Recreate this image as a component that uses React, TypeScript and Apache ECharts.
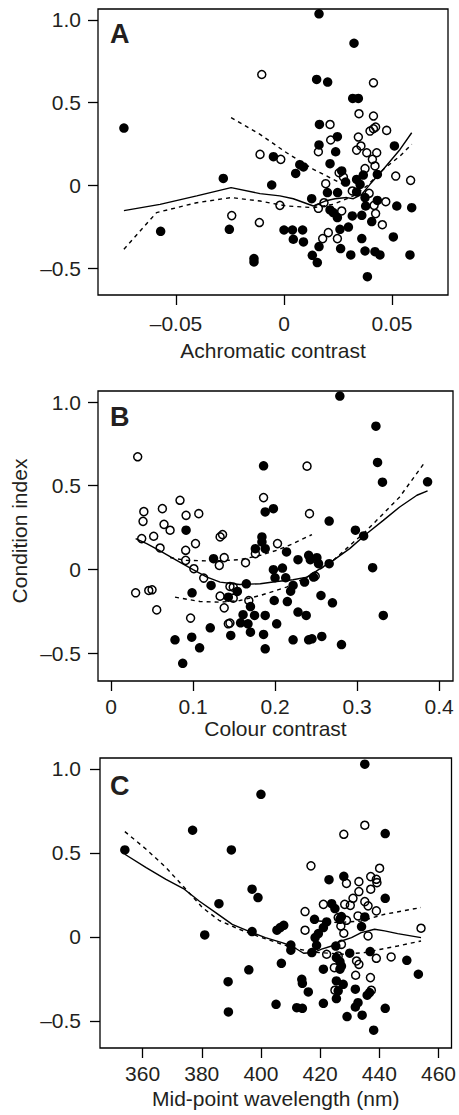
import React, { useEffect, useRef } from 'react';
import * as echarts from 'echarts';

type P = [number, number];

// ---------- Panel A: Achromatic contrast ----------
const filledA: P[] = [
  [-0.0741, 0.346], [0.0162, 1.037], [0.0324, 0.859], [0.0151, 0.64], [0.0202, 0.624], [0.0318, 0.525],
  [0.0344, 0.525], [0.0164, 0.368], [0.0162, 0.244], [0.0247, 0.294], [0.0239, 0.203], [0.0511, 0.238],
  [0.0213, 0.131], [-0.0049, 0.173], [0.0073, 0.125], [0.009, 0.111], [0.0054, 0.072], [0.0267, 0.087],
  [0.0285, 0.02], [0.0336, 0.036], [0.0352, 0.006], [0.0367, 0.062], [0.0432, 0.066], [-0.0281, 0.042],
  [-0.0057, 0.002], [0.0201, -0.044], [0.0248, -0.044], [0.0128, -0.081], [0.0336, -0.04], [0.0375, -0.074],
  [0.0432, -0.091], [0.0378, -0.125], [0.0522, -0.125], [0.0591, -0.135], [0.0213, -0.149], [0.0228, -0.165],
  [0.0247, -0.195], [0.0316, -0.185], [0.036, -0.181], [-0.0571, -0.278], [-0.0253, -0.266], [0.0, -0.27],
  [0.0039, -0.27], [0.0086, -0.27], [0.0043, -0.326], [0.009, -0.342], [0.0259, -0.266], [0.0298, -0.252],
  [0.0406, -0.219], [0.036, -0.322], [0.0506, -0.312], [0.0162, -0.37], [0.0262, -0.382], [0.0131, -0.423],
  [0.0154, -0.467], [0.0309, -0.421], [0.0375, -0.397], [0.0421, -0.401], [0.0444, -0.421], [0.0583, -0.421],
  [-0.0139, -0.443], [-0.0139, -0.463], [0.0386, -0.552],
];
const openA: P[] = [
  [-0.0103, 0.67], [0.0414, 0.62], [0.0347, 0.433], [0.0414, 0.419], [0.0213, 0.368], [0.0398, 0.328],
  [0.0414, 0.342], [0.0424, 0.352], [0.0475, 0.332], [0.0344, 0.292], [0.0216, 0.274], [0.0356, 0.238],
  [0.0336, 0.213], [0.0383, 0.197], [0.0159, 0.203], [0.0429, 0.197], [-0.0111, 0.187], [-0.0015, 0.157],
  [0.0409, 0.157], [0.0421, 0.117], [0.0375, 0.101], [0.0255, 0.076], [0.0275, 0.05], [0.0517, 0.056],
  [0.0586, 0.03], [0.0193, 0.01], [0.0316, -0.034], [0.0394, -0.048], [0.0471, -0.099], [0.0185, -0.105],
  [-0.0019, -0.121], [0.0159, -0.139], [0.0417, -0.121], [0.0267, -0.155], [0.0424, -0.171], [-0.0242, -0.183],
  [0.0455, -0.238], [-0.0114, -0.225], [0.0205, -0.286], [0.0179, -0.322], [0.0247, -0.322],
];
const fitA: P[] = [
  [-0.0741, -0.153], [-0.0574, -0.115], [-0.0404, -0.064], [-0.0245, -0.014], [-0.0111, -0.05], [-0.0019, -0.064],
  [0.0043, -0.081], [0.0136, -0.125], [0.019, -0.095], [0.0236, -0.081], [0.029, -0.074], [0.0321, -0.081],
  [0.036, -0.054], [0.0398, 0.006], [0.046, 0.097], [0.0537, 0.217], [0.0591, 0.318],
];
const lowerA: P[] = [
  [-0.0741, -0.386], [-0.059, -0.165], [-0.0404, -0.105], [-0.0245, -0.074], [-0.0111, -0.095], [0.0012, -0.125],
  [0.0136, -0.135], [0.0228, -0.115], [0.0321, -0.064], [0.0383, -0.004], [0.046, 0.097], [0.0537, 0.177],
  [0.0591, 0.248],
];
const upperA: P[] = [
  [-0.0245, 0.409], [-0.0111, 0.308], [0.0012, 0.197], [0.0136, 0.097], [0.0228, 0.036], [0.029, -0.004],
];

// ---------- Panel B: Colour contrast ----------
const filledB: P[] = [
  [0.279, 1.036], [0.323, 0.856], [0.325, 0.639], [0.331, 0.521], [0.386, 0.523], [0.186, 0.619],
  [0.188, 0.343], [0.198, 0.363], [0.266, 0.289], [0.0915, 0.234], [0.184, 0.194], [0.184, 0.164],
  [0.188, 0.124], [0.176, 0.124], [0.214, 0.104], [0.298, 0.234], [0.308, 0.2], [0.228, 0.058],
  [0.241, 0.084], [0.243, 0.058], [0.251, 0.07], [0.253, 0.034], [0.266, 0.034], [0.319, 0.01],
  [0.125, 0.064], [0.198, -0.002], [0.209, 0.008], [0.2, -0.05], [0.213, -0.05], [0.222, -0.096],
  [0.219, -0.13], [0.236, -0.076], [0.247, -0.046], [0.122, -0.096], [0.165, -0.086], [0.154, -0.132],
  [0.0988, -0.14], [0.143, -0.166], [0.199, -0.186], [0.215, -0.192], [0.256, -0.156], [0.27, -0.2],
  [0.17, -0.222], [0.228, -0.255], [0.238, -0.275], [0.161, -0.271], [0.175, -0.275], [0.188, -0.275],
  [0.332, -0.275], [0.158, -0.319], [0.167, -0.325], [0.202, -0.325], [0.121, -0.349], [0.17, -0.375],
  [0.146, -0.395], [0.186, -0.389], [0.0984, -0.405], [0.078, -0.421], [0.222, -0.421], [0.241, -0.421],
  [0.245, -0.415], [0.257, -0.401], [0.108, -0.469], [0.0874, -0.561], [0.188, -0.475], [0.281, -0.449],
];
const openB: P[] = [
  [0.0325, 0.673], [0.239, 0.617], [0.0841, 0.413], [0.186, 0.429], [0.242, 0.333], [0.04, 0.345],
  [0.039, 0.287], [0.0626, 0.363], [0.0915, 0.323], [0.107, 0.333], [0.0646, 0.269], [0.072, 0.234],
  [0.052, 0.198], [0.0374, 0.184], [0.0598, 0.128], [0.091, 0.114], [0.103, 0.154], [0.133, 0.194],
  [0.136, 0.208], [0.203, 0.154], [0.176, 0.094], [0.091, 0.054], [0.138, 0.07], [0.132, 0.024],
  [0.164, 0.04], [0.101, 0.004], [0.113, -0.052], [0.249, -0.04], [0.145, -0.102], [0.149, -0.106],
  [0.03, -0.14], [0.046, -0.126], [0.05, -0.122], [0.133, -0.16], [0.149, -0.172], [0.168, -0.186],
  [0.0557, -0.242], [0.138, -0.23], [0.097, -0.291], [0.143, -0.325], [0.145, -0.321],
];
const fitB: P[] = [
  [0.03, 0.184], [0.0435, 0.154], [0.0598, 0.11], [0.08, 0.054], [0.1, -0.002], [0.117, -0.046],
  [0.133, -0.076], [0.157, -0.09], [0.182, -0.086], [0.202, -0.072], [0.222, -0.062], [0.239, -0.046],
  [0.255, 0.004], [0.271, 0.054], [0.291, 0.124], [0.312, 0.214], [0.332, 0.293], [0.352, 0.373],
  [0.373, 0.443], [0.386, 0.469],
];
const upperB: P[] = [
  [0.072, 0.07], [0.092, 0.054], [0.125, 0.05], [0.157, 0.058], [0.182, 0.084], [0.202, 0.114],
  [0.222, 0.154], [0.245, 0.208],
];
const lowerB: P[] = [
  [0.078, -0.166], [0.1085, -0.192], [0.133, -0.196], [0.157, -0.186], [0.182, -0.156], [0.214, -0.106],
  [0.247, -0.026], [0.271, 0.054], [0.287, 0.124], [0.312, 0.234], [0.332, 0.333], [0.352, 0.433],
  [0.383, 0.643],
];

// ---------- Panel C: Mid-point wavelength ----------
const filledC: P[] = [
  [435.1, 1.028], [400.0, 0.849], [376.9, 0.635], [390.0, 0.518], [354.0, 0.518], [442.0, 0.615],
  [423.0, 0.341], [428.0, 0.361], [397.0, 0.284], [399.0, 0.234], [385.8, 0.198], [442.0, 0.23],
  [423.9, 0.198], [425.0, 0.169], [427.2, 0.121], [426.7, 0.105], [435.1, 0.119], [434.0, 0.062],
  [418.1, 0.105], [422.2, 0.089], [406.5, 0.056], [407.7, 0.069], [405.4, 0.04], [397.0, 0.032],
  [381.0, 0.012], [421.1, 0.056], [419.4, 0.02], [418.3, -0.004], [418.8, -0.05], [410.1, -0.048],
  [410.1, -0.079], [417.2, -0.093], [425.3, -0.054], [430.0, -0.097], [436.9, -0.087], [449.3, -0.139],
  [453.2, -0.222], [425.5, -0.123], [426.7, -0.147], [427.2, -0.173], [426.7, -0.192], [406.9, -0.157],
  [395.9, -0.196], [421.1, -0.192], [413.8, -0.252], [414.0, -0.276], [416.0, -0.327], [388.9, -0.266],
  [389.0, -0.446], [425.5, -0.262], [427.8, -0.282], [426.1, -0.321], [425.5, -0.367], [431.9, -0.311],
  [435.9, -0.347], [436.7, -0.331], [432.8, -0.391], [431.9, -0.417], [405.1, -0.401], [412.1, -0.421],
  [414.0, -0.425], [421.1, -0.395], [429.1, -0.474], [434.2, -0.466], [442.0, -0.425], [438.1, -0.555],
];
const openC: P[] = [
  [435.1, 0.665], [428.0, 0.611], [416.9, 0.423], [440.1, 0.409], [437.1, 0.359], [433.1, 0.329],
  [428.9, 0.319], [439.0, 0.343], [439.2, 0.323], [437.1, 0.284], [433.1, 0.27], [431.1, 0.23],
  [435.1, 0.21], [436.2, 0.185], [421.1, 0.194], [428.3, 0.194], [430.2, 0.188], [439.0, 0.155],
  [414.9, 0.151], [432.8, 0.125], [428.9, 0.099], [426.1, 0.115], [427.0, 0.065], [414.9, 0.04],
  [428.0, 0.022], [436.2, 0.006], [454.1, 0.052], [427.2, -0.044], [422.2, -0.103], [439.0, -0.127],
  [444.0, -0.119], [432.3, -0.143], [433.1, -0.163], [424.8, -0.183], [432.0, -0.228], [437.0, -0.242],
  [425.0, -0.317], [437.3, -0.317], [426.1, -0.113],
];
const fitC: P[] = [
  [354.0, 0.492], [361.2, 0.413], [367.9, 0.343], [374.1, 0.284], [379.1, 0.214], [384.7, 0.145],
  [390.3, 0.075], [397.0, 0.026], [401.5, -0.004], [407.1, -0.034], [410.4, -0.054], [414.4, -0.097],
  [417.7, -0.093], [420.5, -0.073], [423.9, -0.054], [427.2, -0.024], [430.6, -0.004], [433.9, 0.026],
  [438.4, 0.046], [441.8, 0.036], [446.2, 0.02], [454.1, -0.004],
];
const lowerC: P[] = [
  [354.0, 0.627], [361.2, 0.522], [367.9, 0.413], [374.1, 0.294], [380.2, 0.175], [385.8, 0.099],
  [392.6, 0.046], [399.3, 0.002], [407.1, -0.044], [412.7, -0.073], [419.4, -0.093], [428.3, -0.103],
  [435.1, -0.093], [440.6, -0.073], [446.2, -0.054], [454.1, -0.024],
];
const upperC: P[] = [
  [419.4, 0.095], [426.1, 0.085], [433.9, 0.095], [441.8, 0.135], [454.1, 0.175],
];

// ---------- Ticks and labels ----------
const yTicks = [-0.5, 0, 0.5, 1.0];
const yTickLabels = ['\u20130.5', '0', '0.5', '1.0'];
const xTicksA = [-0.05, 0, 0.05];
const xTickLabelsA = ['\u20130.05', '0', '0.05'];
const xTicksB = [0, 0.1, 0.2, 0.3, 0.4];
const xTickLabelsB = ['0', '0.1', '0.2', '0.3', '0.4'];
const xTicksC = [360, 380, 400, 420, 440, 460];
const xTickLabelsC = ['360', '380', '400', '420', '440', '460'];
const xTitles = ['Achromatic contrast', 'Colour contrast', 'Mid-point wavelength (nm)'];
const panelLetters = ['A', 'B', 'C'];
const yTitle = 'Condition index';

const TXT = '#231f20';
const FONT = '"Liberation Sans", Arial, Helvetica, sans-serif';
const FS = 21;

function labelFor(ticks: number[], labels: string[]) {
  return (v: number) => {
    for (let i = 0; i < ticks.length; i++) if (Math.abs(ticks[i] - v) < 1e-9) return labels[i];
    return '';
  };
}

export default function App() {
  const ref = useRef<HTMLDivElement>(null);
  useEffect(() => {
    if (!ref.current) return;
    const chart = echarts.init(ref.current, undefined, { renderer: 'svg' });

    const grids = [
      { left: 98, top: 9, width: 350, height: 286 },
      { left: 98, top: 391, width: 355, height: 290 },
      { left: 100, top: 758, width: 354, height: 290 },
    ];
    const xRanges = [
      [-0.0861, 0.0759],
      [-0.0159, 0.417],
      [345.6, 464.4],
    ];
    const yRanges = [
      [-0.663, 1.066],
      [-0.667, 1.066],
      [-0.661, 1.065],
    ];
    const xTicks = [xTicksA, xTicksB, xTicksC];
    const xLabels = [xTickLabelsA, xTickLabelsB, xTickLabelsC];
    const labelMargins = [18, 15, 15];
    const nameGaps = [45, 34, 40];
    const yLabelMargins = [17, 17, 19];

    const series: any[] = [];
    const panels = [
      { filled: filledA, open: openA, fit: fitA, dashed: [lowerA, upperA] },
      { filled: filledB, open: openB, fit: fitB, dashed: [upperB, lowerB] },
      { filled: filledC, open: openC, fit: fitC, dashed: [lowerC, upperC] },
    ];
    panels.forEach((p, i) => {
      series.push({
        type: 'scatter', xAxisIndex: i, yAxisIndex: i, data: p.open, symbol: 'circle', symbolSize: 8,
        itemStyle: { color: 'rgba(255,255,255,0)', borderColor: '#000', borderWidth: 1.5, opacity: 1 }, z: 2,
      });
      series.push({
        type: 'scatter', xAxisIndex: i, yAxisIndex: i, data: p.filled, symbol: 'circle', symbolSize: 9.5,
        itemStyle: { color: '#000', opacity: 1 }, z: 3,
      });
      series.push({
        type: 'line', xAxisIndex: i, yAxisIndex: i, data: p.fit, showSymbol: false, symbol: 'none',
        lineStyle: { color: '#000', width: 1.4 }, z: 4,
      });
      p.dashed.forEach((d) => {
        series.push({
          type: 'line', xAxisIndex: i, yAxisIndex: i, data: d, showSymbol: false, symbol: 'none',
          lineStyle: { color: '#000', width: 1.4, type: [4, 4] }, z: 4,
        });
      });
    });

    const graphics: any[] = [];
    const letterY = [34.5, 417.5, 786];
    panelLetters.forEach((l, i) => {
      graphics.push({
        type: 'text', left: 110, top: letterY[i] - 14,
        style: { text: l, font: `bold 27px ${FONT}`, fill: TXT },
      });
    });
    graphics.push({
      type: 'text', x: 19, y: 531, rotation: Math.PI / 2,
      style: { text: yTitle, font: `${FS}px ${FONT}`, fill: TXT, textAlign: 'center', textVerticalAlign: 'middle' },
    });

    chart.setOption({
      animation: false,
      backgroundColor: '#fff',
      textStyle: { fontFamily: FONT },
      grid: grids.map((g) => ({ ...g, show: true, borderColor: '#000', borderWidth: 1.3, backgroundColor: 'transparent', containLabel: false })),
      xAxis: grids.map((g, i) => ({
        type: 'value', gridIndex: i, min: xRanges[i][0], max: xRanges[i][1],
        name: xTitles[i], nameLocation: 'middle', nameGap: nameGaps[i],
        nameTextStyle: { fontSize: FS, color: TXT, fontFamily: FONT },
        axisLine: { show: false, onZero: false },
        splitLine: { show: false },
        axisTick: { show: true, inside: false, length: 10, customValues: xTicks[i], lineStyle: { color: '#000', width: 1.3 } },
        axisLabel: {
          show: true, customValues: xTicks[i], margin: labelMargins[i], fontSize: FS, color: TXT, fontFamily: FONT,
          formatter: labelFor(xTicks[i], xLabels[i]),
        },
      })),
      yAxis: grids.map((g, i) => ({
        type: 'value', gridIndex: i, min: yRanges[i][0], max: yRanges[i][1],
        axisLine: { show: false, onZero: false },
        splitLine: { show: false },
        axisTick: { show: true, inside: false, length: 10, customValues: yTicks, lineStyle: { color: '#000', width: 1.3 } },
        axisLabel: {
          show: true, customValues: yTicks, margin: yLabelMargins[i], fontSize: FS, color: TXT, fontFamily: FONT,
          formatter: labelFor(yTicks, yTickLabels),
        },
      })),
      series,
      graphic: graphics,
    });
    return () => chart.dispose();
  }, []);
  return <div ref={ref} style={{ position: 'fixed', left: 0, top: 0, width: 459, height: 1115 }} />;
}
